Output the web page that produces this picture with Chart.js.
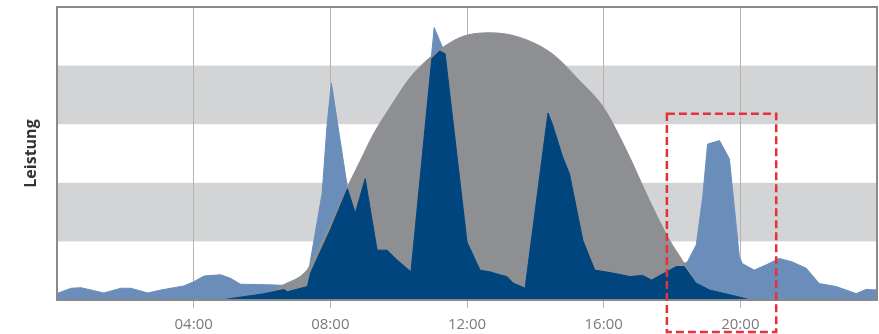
<!DOCTYPE html>
<html lang="de">
<head>
<meta charset="utf-8">
<title>Leistung</title>
<script src="https://cdn.jsdelivr.net/npm/chart.js@4.4.1/dist/chart.umd.min.js"></script>
<style>
  html, body { margin: 0; padding: 0; background: #fff; }
</style>
</head>
<body>
<canvas id="grafikLeistung" width="879" height="334"></canvas>
<script>
// Verbrauch (hellblau), Stunden und Werte
const verbrauchStunden = [0, 0.41, 0.7, 1.37, 1.87, 2.16, 2.66, 3.04, 3.71, 4.0, 4.3, 4.79, 5.08, 5.37, 6.16, 6.64, 7.0, 7.35, 7.42, 7.76,
  7.9, 8.03, 8.5, 8.73, 9.02, 9.37, 9.66, 9.96, 10.36, 11.04, 11.36, 12.0, 12.38, 12.67, 12.96, 13.17, 13.35, 13.7, 14.37, 14.5,
  14.8, 15.0, 15.39, 15.74, 16.26, 16.76, 17.14, 17.4, 17.84, 18.13, 18.45, 18.71, 18.9, 19.04, 19.39, 19.68, 19.97, 20.06, 20.41, 20.76,
  21.14, 21.52, 21.93, 22.31, 22.8, 23.39, 23.68, 24];
const verbrauchWerte = [0.11, 0.2, 0.21, 0.12, 0.2, 0.2, 0.12, 0.17, 0.24, 0.31, 0.41, 0.43, 0.37, 0.27, 0.26, 0.25, 0.3, 0.4, 0.68, 1.82,
  2.95, 3.7, 1.92, 1.48, 2.07, 0.85, 0.85, 0.68, 0.48, 4.65, 4.2, 0.99, 0.51, 0.48, 0.43, 0.4, 0.29, 0.2, 3.19, 3.0,
  2.44, 2.15, 1.02, 0.51, 0.46, 0.4, 0.42, 0.34, 0.48, 0.57, 0.65, 0.94, 1.76, 2.66, 2.72, 2.41, 0.74, 0.62, 0.51, 0.6,
  0.71, 0.65, 0.54, 0.28, 0.23, 0.11, 0.18, 0.17];

// PV-Erzeugung (grau)
const pvStunden = [6.0, 6.6, 7.3, 7.5, 8.0, 8.5, 8.88, 9.26, 9.75, 10.34, 10.92, 11.8, 12.67, 13.55, 14.5, 15.3, 16.0, 16.67, 17.34, 17.93,
  18.3, 18.7, 19.0];
const pvWerte = [0.05, 0.25, 0.5, 0.7, 1.3, 1.93, 2.38, 2.83, 3.29, 3.8, 4.14, 4.48, 4.56, 4.48, 4.2, 3.74, 3.28, 2.55, 1.7, 1.02,
  0.68, 0.3, 0];

// Eigenverbrauch (dunkelblau)
const eigenStunden = [0, 4.8, 5.5, 6.0, 6.64, 6.74, 7.33, 7.42, 8.0, 8.5, 8.73, 9.02, 9.37, 9.66, 9.96, 10.36, 10.97, 11.2, 11.36, 12.0,
  12.38, 12.67, 12.96, 13.17, 13.35, 13.7, 14.37, 14.5, 14.8, 15.0, 15.39, 15.74, 16.26, 16.76, 17.14, 17.4, 17.84, 18.13, 18.36, 18.7,
  19.1, 19.9, 20.3, 24];
const eigenWerte = [0, 0, 0.06, 0.1, 0.18, 0.14, 0.23, 0.46, 1.2, 1.9, 1.48, 2.07, 0.85, 0.85, 0.68, 0.48, 4.12, 4.25, 4.2, 0.99,
  0.51, 0.48, 0.43, 0.4, 0.29, 0.2, 3.19, 3.0, 2.44, 2.15, 1.02, 0.51, 0.46, 0.4, 0.42, 0.34, 0.48, 0.57, 0.57, 0.29,
  0.17, 0.06, 0, 0];

// graue Baender (von, bis) und markierter Bereich (von, bis, oben)
const baender = [[1, 2], [3, 4]];
const markierung = [17.85, 21.05, 3.18];

function punkte(xs, ys) {
  return xs.map(function(x, i) { return {x: x, y: ys[i]}; });
}

const baenderPlugin = {
  id: 'baender',
  beforeDraw: function(chart) {
    const ctx = chart.ctx, area = chart.chartArea, y = chart.scales.y;
    ctx.save();
    ctx.fillStyle = '#d3d4d6';
    baender.forEach(function(b) {
      const oben = y.getPixelForValue(b[1]);
      const unten = y.getPixelForValue(b[0]);
      ctx.fillRect(area.left, oben, area.right - area.left, unten - oben);
    });
    ctx.restore();
  }
};

const rahmenPlugin = {
  id: 'rahmen',
  afterDatasetsDraw: function(chart) {
    const ctx = chart.ctx, area = chart.chartArea;
    ctx.save();
    ctx.strokeStyle = '#8a8a8a';
    ctx.lineWidth = 2;
    ctx.strokeRect(area.left, area.top, area.right - area.left, area.bottom - area.top);
    ctx.restore();
  }
};

const markierungPlugin = {
  id: 'markierung',
  afterDraw: function(chart) {
    const ctx = chart.ctx, x = chart.scales.x, y = chart.scales.y;
    const links = x.getPixelForValue(markierung[0]);
    const rechts = x.getPixelForValue(markierung[1]);
    const oben = y.getPixelForValue(markierung[2]);
    ctx.save();
    ctx.strokeStyle = '#e8303a';
    ctx.lineWidth = 2.5;
    ctx.setLineDash([8, 4]);
    ctx.strokeRect(links, oben, rechts - links, chart.height - 2 - oben);
    ctx.restore();
  }
};

const ctx = document.getElementById('grafikLeistung').getContext('2d');
const grafikLeistung = new Chart(ctx, {
  type: 'line',
  data: {
    datasets: [
      {
        label: 'Eigenverbrauch',
        data: punkte(eigenStunden, eigenWerte),
        backgroundColor: '#00457e',
        borderColor: '#00457e',
        borderWidth: 1,
        fill: 'origin'
      },
      {
        label: 'PV-Erzeugung',
        data: punkte(pvStunden, pvWerte),
        backgroundColor: '#8e8f92',
        borderColor: '#8e8f92',
        borderWidth: 1,
        cubicInterpolationMode: 'monotone',
        fill: 'origin'
      },
      {
        label: 'Verbrauch',
        data: punkte(verbrauchStunden, verbrauchWerte),
        backgroundColor: '#6a8db9',
        borderColor: '#6a8db9',
        borderWidth: 1,
        fill: 'origin'
      }
    ]
  },
  options: {
    responsive: false,
    animation: false,
    devicePixelRatio: 1,
    layout: { padding: { top: 7, right: 2, left: 0, bottom: 0 } },
    elements: { point: { radius: 0 }, line: { tension: 0 } },
    plugins: { legend: { display: false }, tooltip: { enabled: false } },
    scales: {
      x: {
        type: 'linear',
        min: 0,
        max: 24,
        afterFit: function(scale) {
          scale.height = 34;
          scale.paddingLeft = 0;
          scale.paddingRight = 0;
        },
        border: { display: false },
        grid: {
          color: function(c) { return (c.tick.value === 0 || c.tick.value === 24) ? 'rgba(0,0,0,0)' : '#b4b4b4'; },
          lineWidth: 1,
          tickLength: 8
        },
        ticks: {
          stepSize: 4,
          maxRotation: 0,
          padding: 8,
          color: '#7a7a7a',
          font: { family: 'Open Sans', size: 15 },
          callback: function(v) {
            if (v === 0 || v === 24) return '';
            return (v < 10 ? '0' : '') + v + ':00';
          }
        }
      },
      y: {
        min: 0,
        max: 5,
        afterFit: function(scale) { scale.width = 57; },
        border: { display: false },
        grid: { display: false },
        ticks: { display: false },
        title: {
          display: true,
          text: 'Leistung',
          color: '#333333',
          padding: { top: 22, bottom: 0 },
          font: { family: 'Open Sans', size: 16, weight: 'bold' }
        }
      }
    }
  },
  plugins: [baenderPlugin, rahmenPlugin, markierungPlugin]
});
</script>
</body>
</html>
